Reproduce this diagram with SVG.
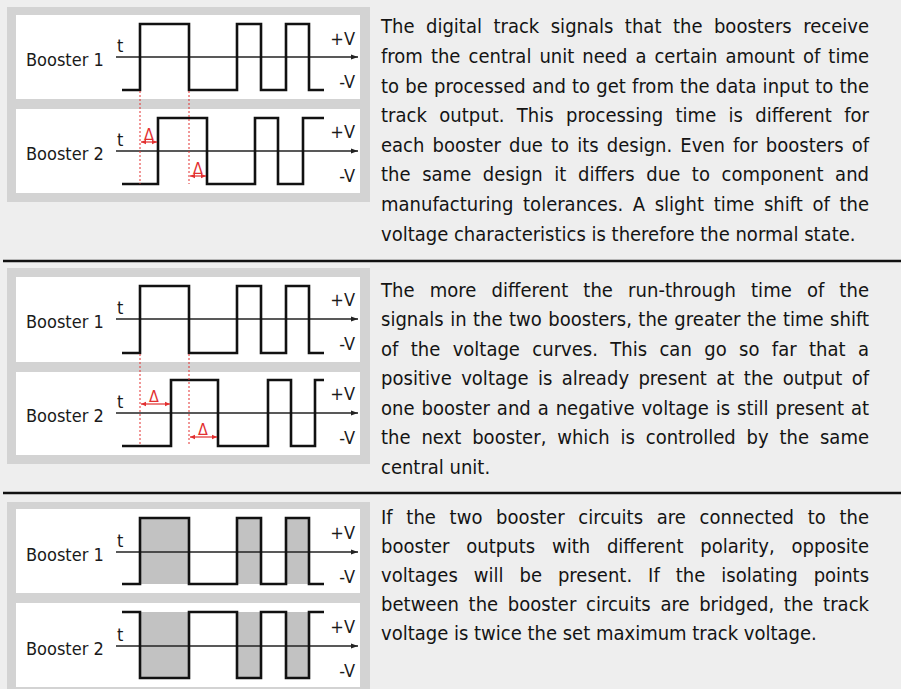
<svg xmlns="http://www.w3.org/2000/svg" width="901" height="689" viewBox="0 0 901 689">
<style>
.bg{fill:#eeeeee}
.panel{fill:#d3d3d3}
.inner{fill:#ffffff}
.sep{stroke:#111;stroke-width:2.4}
.wave{fill:none;stroke:#111;stroke-width:2.6;stroke-linejoin:miter}
.fillw{fill:#c2c2c2;stroke:none}
.axis{stroke:#222;stroke-width:1.3;fill:none}
.red{stroke:#e23030;stroke-width:1;fill:none;stroke-dasharray:2 2}
.darr{stroke:#e23030;stroke-width:1.2;fill:none}
.lbl{font-family:"DejaVu Sans Condensed","DejaVu Sans",sans-serif;font-stretch:condensed;font-size:18px;fill:#1a1a1a}
.dl{font-family:"DejaVu Sans Condensed","DejaVu Sans",sans-serif;font-size:16px;fill:#e23030;text-anchor:middle}
.txt{font-family:"DejaVu Sans Condensed","DejaVu Sans",sans-serif;font-stretch:condensed;font-size:20px;fill:#141414}
.end{text-anchor:end}
</style>
<defs>
<marker id="ax" markerWidth="8" markerHeight="6" refX="7" refY="3" orient="auto" markerUnits="userSpaceOnUse">
<path d="M0,0.5 L7,3 L0,5.5 Z" fill="#222"/>
</marker>
<marker id="ra" markerWidth="6" markerHeight="6" refX="5" refY="3" orient="auto-start-reverse" markerUnits="userSpaceOnUse">
<path d="M0,0.8 L5,3 L0,5.2 Z" fill="#e23030"/>
</marker>
</defs>
<rect class="bg" x="0" y="0" width="901" height="689"/>

<g id="separators">
<line class="sep" x1="3" y1="261" x2="901" y2="261"/>
<line class="sep" x1="3" y1="493" x2="901" y2="493"/>
</g>

<!-- Panel 1 -->
<g id="panel1">
<rect class="panel" x="7" y="7" width="363" height="195"/>
<rect class="inner" x="16" y="15" width="344" height="84"/>
<rect class="inner" x="16" y="109" width="344" height="84"/>
<g id="p1-booster1">
<text class="lbl" x="26" y="66">Booster 1</text>
<text class="lbl" x="117" y="52">t</text>
<text class="lbl end" x="355" y="45">+V</text>
<text class="lbl end" x="355" y="88">-V</text>
<line class="axis" x1="116" y1="57" x2="358" y2="57" marker-end="url(#ax)"/>
<path class="wave" d="M122,90 H140 V24 H189 V90 H237 V24 H261 V90 H286 V24 H309 V90 H324"/>
</g>
<g id="p1-booster2">
<text class="lbl" x="26" y="160">Booster 2</text>
<text class="lbl" x="117" y="146">t</text>
<text class="lbl end" x="355" y="138">+V</text>
<text class="lbl end" x="355" y="182">-V</text>
<line class="axis" x1="116" y1="151" x2="358" y2="151" marker-end="url(#ax)"/>
<path class="wave" d="M122,184 H158 V118 H207 V184 H255 V118 H278 V184 H303 V118 H324"/>
</g>
<g id="p1-delta">
<line class="red" x1="140" y1="91" x2="140" y2="184"/>
<line class="red" x1="189" y1="91" x2="189" y2="184"/>
<line class="darr" x1="141" y1="142" x2="157" y2="142" marker-start="url(#ra)" marker-end="url(#ra)"/>
<line class="darr" x1="190" y1="176" x2="206" y2="176" marker-start="url(#ra)" marker-end="url(#ra)"/>
<text class="dl" x="149" y="140">Δ</text>
<text class="dl" x="198" y="174">Δ</text>
</g>
</g>
<g id="text1" class="txt">
<text x="381" y="33.3" word-spacing="5.7" textLength="488" lengthAdjust="spacing">The digital track signals that the boosters receive</text>
<text x="381" y="62.9" word-spacing="2.3" textLength="488" lengthAdjust="spacing">from the central unit need a certain amount of time</text>
<text x="381" y="92.5" word-spacing="0.4" textLength="488" lengthAdjust="spacing">to be processed and to get from the data input to the</text>
<text x="381" y="122.1" word-spacing="6.6" textLength="488" lengthAdjust="spacing">track output. This processing time is different for</text>
<text x="381" y="151.7" word-spacing="2.4" textLength="488" lengthAdjust="spacing">each booster due to its design. Even for boosters of</text>
<text x="381" y="181.3" word-spacing="5.9" textLength="488" lengthAdjust="spacing">the same design it differs due to component and</text>
<text x="381" y="210.9" word-spacing="3.9" textLength="488" lengthAdjust="spacing">manufacturing tolerances. A slight time shift of the</text>
<text x="381" y="240.5">voltage characteristics is therefore the normal state.</text>
</g>

<!-- Panel 2 -->
<g id="panel2">
<rect class="panel" x="7" y="268" width="363" height="196"/>
<rect class="inner" x="16" y="277" width="344" height="85"/>
<rect class="inner" x="16" y="372" width="344" height="83"/>
<g id="p2-booster1">
<text class="lbl" x="26" y="328">Booster 1</text>
<text class="lbl" x="117" y="314">t</text>
<text class="lbl end" x="355" y="306">+V</text>
<text class="lbl end" x="355" y="350">-V</text>
<line class="axis" x1="116" y1="319" x2="358" y2="319" marker-end="url(#ax)"/>
<path class="wave" d="M122,353 H140 V286 H189 V353 H237 V286 H261 V353 H286 V286 H309 V353 H324"/>
</g>
<g id="p2-booster2">
<text class="lbl" x="26" y="422">Booster 2</text>
<text class="lbl" x="117" y="408">t</text>
<text class="lbl end" x="355" y="400">+V</text>
<text class="lbl end" x="355" y="444">-V</text>
<line class="axis" x1="116" y1="413" x2="358" y2="413" marker-end="url(#ax)"/>
<path class="wave" d="M122,446 H171 V380 H218 V446 H268 V380 H291 V446 H315 V380 H324"/>
</g>
<g id="p2-delta">
<line class="red" x1="140" y1="354" x2="140" y2="446"/>
<line class="red" x1="189" y1="354" x2="189" y2="446"/>
<line class="darr" x1="141" y1="404" x2="170" y2="404" marker-start="url(#ra)" marker-end="url(#ra)"/>
<line class="darr" x1="190" y1="437" x2="217" y2="437" marker-start="url(#ra)" marker-end="url(#ra)"/>
<text class="dl" x="154" y="402">Δ</text>
<text class="dl" x="203" y="435">Δ</text>
</g>
</g>
<g id="text2" class="txt">
<text x="381" y="296.7" word-spacing="9.3" textLength="488" lengthAdjust="spacing">The more different the run-through time of the</text>
<text x="381" y="326.2" word-spacing="0.7" textLength="488" lengthAdjust="spacing">signals in the two boosters, the greater the time shift</text>
<text x="381" y="355.7" word-spacing="6.7" textLength="488" lengthAdjust="spacing">of the voltage curves. This can go so far that a</text>
<text x="381" y="385.2" word-spacing="3.6" textLength="488" lengthAdjust="spacing">positive voltage is already present at the output of</text>
<text x="381" y="414.7" word-spacing="1.2" textLength="488" lengthAdjust="spacing">one booster and a negative voltage is still present at</text>
<text x="381" y="444.2" word-spacing="5.1" textLength="488" lengthAdjust="spacing">the next booster, which is controlled by the same</text>
<text x="381" y="473.5">central unit.</text>
</g>

<!-- Panel 3 -->
<g id="panel3">
<rect class="panel" x="7" y="502" width="363" height="187"/>
<rect class="inner" x="16" y="509" width="344" height="84"/>
<rect class="inner" x="16" y="603" width="344" height="84"/>
<g id="p3-booster1">
<rect class="fillw" x="140" y="518" width="49" height="66"/>
<rect class="fillw" x="237" y="518" width="24" height="66"/>
<rect class="fillw" x="286" y="518" width="23" height="66"/>
<text class="lbl" x="26" y="561">Booster 1</text>
<text class="lbl" x="117" y="547">t</text>
<text class="lbl end" x="355" y="539">+V</text>
<text class="lbl end" x="355" y="583">-V</text>
<line class="axis" x1="116" y1="552" x2="358" y2="552" marker-end="url(#ax)"/>
<path class="wave" d="M122,584 H140 V518 H189 V584 H237 V518 H261 V584 H286 V518 H309 V584 H324"/>
</g>
<g id="p3-booster2">
<rect class="fillw" x="140" y="612" width="49" height="66"/>
<rect class="fillw" x="237" y="612" width="24" height="66"/>
<rect class="fillw" x="286" y="612" width="23" height="66"/>
<text class="lbl" x="26" y="655">Booster 2</text>
<text class="lbl" x="117" y="641">t</text>
<text class="lbl end" x="355" y="633">+V</text>
<text class="lbl end" x="355" y="677">-V</text>
<line class="axis" x1="116" y1="646" x2="358" y2="646" marker-end="url(#ax)"/>
<path class="wave" d="M122,612 H140 V678 H189 V612 H237 V678 H261 V612 H286 V678 H309 V612 H324"/>
</g>
</g>
<g id="text3" class="txt">
<text x="381" y="523.5" word-spacing="7.9" textLength="488" lengthAdjust="spacing">If the two booster circuits are connected to the</text>
<text x="381" y="552.5" word-spacing="11" textLength="488" lengthAdjust="spacing">booster outputs with different polarity, opposite</text>
<text x="381" y="581.5" word-spacing="10.2" textLength="488" lengthAdjust="spacing">voltages will be present. If the isolating points</text>
<text x="381" y="610.5" word-spacing="3.9" textLength="488" lengthAdjust="spacing">between the booster circuits are bridged, the track</text>
<text x="381" y="639.5">voltage is twice the set maximum track voltage.</text>
</g>
</svg>
